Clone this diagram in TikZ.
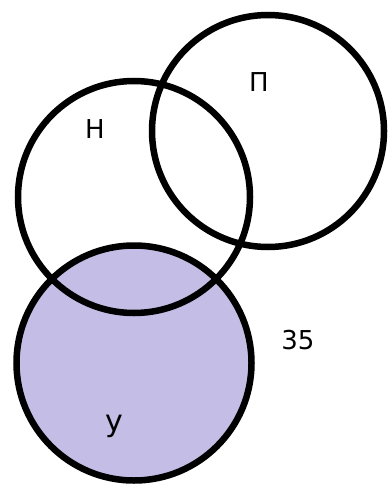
\documentclass[tikz,border=0pt]{standalone}
\usepackage{fontspec}
\setmainfont{DejaVu Sans}
\definecolor{lav}{RGB}{196,190,230}
\begin{document}
\begin{tikzpicture}[x=1pt,y=-1pt,
  ring/.style={line width=6.5pt,draw=black},
  lbl/.style={font=\fontsize{26}{26}\selectfont,inner sep=0pt}]
\useasboundingbox (0,0) rectangle (389,484);
\fill[white] (0,0) rectangle (389,484);
\fill[lav] (134,363) circle[radius=118];
\coordinate (cn) at (134,197);
\coordinate (cp) at (268,131);
\coordinate (cu) at (134,363);
\draw[ring] (cn) circle[radius=116];
\draw[ring] (cp) circle[radius=116];
\draw[ring] (cu) circle[radius=117.5];
\node[lbl] (n) at (95,129) {Н};
\node[lbl] (p) at (259,82) {П};
\node[lbl] (t) at (298,340) {35};
\node[lbl,font=\fontsize{30}{30}\selectfont] (u) at (114,426) {у};
\end{tikzpicture}
\end{document}
